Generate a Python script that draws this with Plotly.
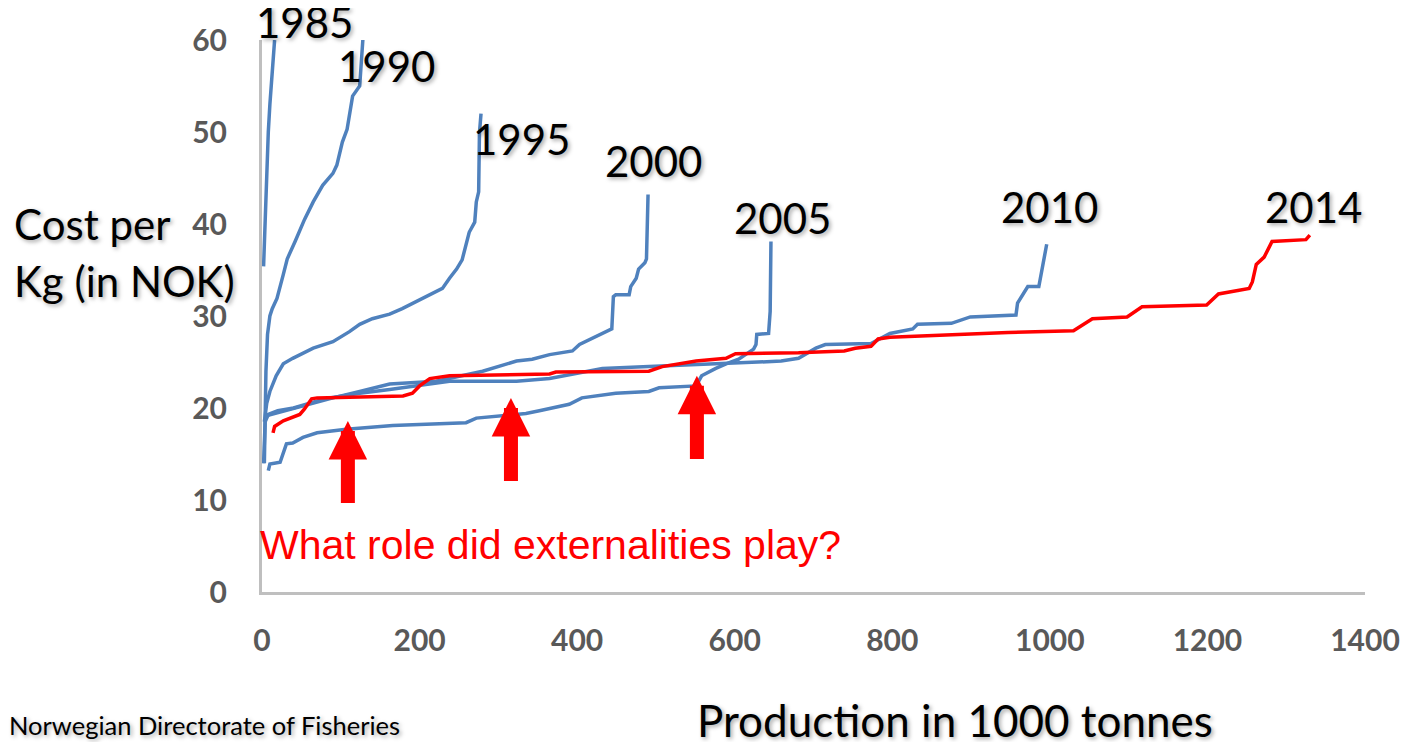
import plotly.graph_objects as go

# Cost curves for Norwegian salmon farming, production (1000 t) vs cost per kg (NOK)
prod_1985 = [2, 3, 4, 5, 6, 7, 8, 10, 12, 14, 16]
cost_1985 = [35.4, 38, 40, 42.4, 45, 47.8, 50, 53, 55.5, 58, 60]

prod_1990 = [3, 4, 5, 7, 10, 13, 19, 27, 32, 42, 54, 65, 77, 90, 95, 102, 108, 115, 120, 124, 128]
cost_1990 = [14, 19, 24, 28, 30, 30.8, 31.9, 34.5, 36.2, 38.1, 40.5, 42.4, 44.2, 45.5, 46.4, 48.9,
             50.3, 53.9, 54.5, 55, 60]

prod_1995 = [3, 6, 10, 18, 27, 39, 65, 90, 111, 124, 140, 162, 178, 204, 229, 238, 247, 254, 259,
             263, 270, 272, 275, 276, 278]
cost_1995 = [18.5, 20.5, 21.8, 23.5, 24.8, 25.4, 26.5, 27.2, 28.3, 29.1, 29.7, 30.2, 30.8, 31.9, 33,
             34.1, 35.1, 36.1, 37.7, 39.1, 40.2, 42.4, 43.5, 49.9, 52]

prod_2000 = [3, 20, 39, 52, 90, 124, 162, 221, 280, 323, 343, 365, 394, 403, 419, 437, 444, 446, 449,
             466, 468, 475, 478, 486, 488, 490]
cost_2000 = [19.1, 19.5, 19.9, 20.2, 21.1, 21.8, 22.6, 22.9, 24, 25.1, 25.3, 25.8, 26.2, 26.9, 27.6,
             28.3, 28.6, 32.1, 32.3, 32.3, 33.2, 34.1, 35.1, 35.8, 36.2, 43.2]

prod_2005 = [8, 10, 23, 31, 39, 52, 70, 107, 166, 221, 259, 272, 335, 352, 390, 406, 449, 491, 504,
             551, 558, 576, 589, 605, 624, 627, 628, 643, 645, 646]
cost_2005 = [13.2, 13.9, 14.1, 16.1, 16.2, 16.8, 17.3, 17.7, 18.1, 18.3, 18.4, 18.9, 19.4, 19.7, 20.4,
             21.1, 21.6, 21.8, 22.2, 22.4, 23.5, 24.3, 24.8, 25.3, 26.4, 26.9, 28, 28.1, 30.5, 38.1]

prod_2010 = [2, 4, 8, 20, 40, 80, 124, 162, 238, 323, 365, 415, 432, 491, 576, 659, 681, 703, 715,
             773, 797, 826, 832, 875, 899, 957, 959, 972, 986, 996]
cost_2010 = [14, 18.5, 19.3, 19.7, 20, 21, 21.6, 22, 22.9, 22.9, 23.2, 24, 24.3, 24.5, 24.8, 25.1,
             25.4, 26.5, 26.9, 27, 28.1, 28.6, 29.1, 29.2, 29.9, 30.1, 31.4, 33.2, 33.2, 37.8]

prod_2014 = [14, 16, 27, 48, 54, 63, 70, 137, 179, 191, 200, 213, 238, 365, 373, 491, 508, 551, 589,
             601, 681, 739, 753, 773, 782, 797, 875, 947, 1030, 1039, 1054, 1098, 1117, 1199, 1214,
             1253, 1257, 1262, 1272, 1282, 1325, 1330]
cost_2014 = [17.3, 18, 18.6, 19.3, 19.9, 21, 21.1, 21.2, 21.3, 21.6, 22.4, 23.2, 23.5, 23.7, 23.9,
             24, 24.5, 25.1, 25.4, 25.9, 26, 26.2, 26.5, 26.7, 27.5, 27.7, 28.0, 28.2, 28.4, 28.9,
             29.7, 29.9, 31.0, 31.2, 32.4, 33.0, 33.7, 35.6, 36.4, 38.1, 38.3, 38.8]

years = ["1985", "1990", "1995", "2000", "2005", "2010", "2014"]
productions = [prod_1985, prod_1990, prod_1995, prod_2000, prod_2005, prod_2010, prod_2014]
costs = [cost_1985, cost_1990, cost_1995, cost_2000, cost_2005, cost_2010, cost_2014]

x_ticks = [0, 200, 400, 600, 800, 1000, 1200, 1400]
y_ticks = [0, 10, 20, 30, 40, 50, 60]

# production levels the arrows point at, with tip / tail cost levels
arrow_prod = [109, 316, 552]
arrow_tip = [18.6, 21.1, 23.5]
arrow_tail = [9.5, 11.9, 14.3]

BLUE = "#4f81bd"
RED = "#ff0000"

# the page body adds an 8px margin, so the figure is drawn 8px smaller
W, H = 1404, 734
PLOT_W, PLOT_H = 1106, 555
L, T = 254, 29


def px_x(px):
    # screen pixel -> paper x
    return (px - 262) / PLOT_W


def px_y(py):
    # screen pixel -> paper y
    return (592 - py) / PLOT_H


fig = go.Figure()
for year, xs, ys in zip(years, productions, costs):
    fig.add_trace(go.Scatter(
        x=xs, y=ys, mode="lines", name=year,
        line=dict(color=RED if year == "2014" else BLUE, width=3.5),
        hoverinfo="x+y+name",
    ))

shadow = "2px 2px 4px rgba(0,0,0,0.35)"
label_font = dict(family="Lato, Noto Sans, sans-serif", size=42, color="black", shadow=shadow)

# year labels (data coordinates)
label_pos = {
    "1985": (54, 59.9), "1990": (158, 57.2), "1995": (330, 49.2), "2000": (497, 46.9),
    "2005": (661, 40.6), "2010": (1000, 41.9), "2014": (1335, 41.9),
}
annotations = []
for year in years:
    lx, ly = label_pos[year]
    annotations.append(dict(x=lx, y=ly, xref="x", yref="y", text=year, showarrow=False,
                            font=label_font, xanchor="center", yanchor="middle",
                            yshift=19 if year == "1985" else 0))

for ax_, tip, tail in zip(arrow_prod, arrow_tip, arrow_tail):
    annotations.append(dict(x=ax_, y=tip, ax=ax_, ay=tail, xref="x", yref="y",
                            axref="x", ayref="y", text="", showarrow=True,
                            arrowhead=2, arrowsize=0.55, arrowwidth=14, arrowcolor=RED))

annotations += [
    dict(x=px_x(11), y=px_y(222), xref="paper", yref="paper", text="Cost per",
         showarrow=False, xanchor="left", yanchor="middle", font=label_font),
    dict(x=px_x(11), y=px_y(279), xref="paper", yref="paper", text="Kg (in NOK)",
         showarrow=False, xanchor="left", yanchor="middle", font=label_font),
    dict(x=px_x(957), y=px_y(721), xref="paper", yref="paper", text="Production in 1000 tonnes",
         showarrow=False, xanchor="center", yanchor="middle",
         font=dict(family="Lato, Noto Sans, sans-serif", size=44, color="black", shadow=shadow)),
    dict(x=px_x(6), y=px_y(726), xref="paper", yref="paper",
         text="Norwegian Directorate of Fisheries", showarrow=False,
         xanchor="left", yanchor="middle",
         font=dict(family="Lato, Noto Sans, sans-serif", size=25.5, color="black", shadow=shadow)),
    dict(x=px_x(258), y=px_y(545), xref="paper", yref="paper",
         text="What role did externalities play?", showarrow=False,
         xanchor="left", yanchor="middle",
         font=dict(family="Liberation Sans, Arial, sans-serif", size=41, color=RED)),
]

tick_font = dict(family="Lato, Noto Sans, sans-serif", size=30, color="#595959", weight="bold")

fig.update_layout(
    width=W, height=H,
    margin=dict(l=L, r=W - L - PLOT_W, t=T, b=H - T - PLOT_H, pad=0),
    plot_bgcolor="white", paper_bgcolor="white",
    showlegend=False,
    annotations=annotations,
    xaxis=dict(range=[0, 1400], tickvals=x_ticks, showgrid=False, zeroline=False,
               showline=True, linecolor="#bfbfbf", linewidth=3, ticks="",
               tickfont=tick_font, ticklabelstandoff=20),
    yaxis=dict(range=[0, 60], tickvals=y_ticks, showgrid=False, zeroline=False,
               showline=True, linecolor="#bfbfbf", linewidth=3, ticks="",
               tickfont=tick_font, ticklabelstandoff=26),
)

fig.write_html("out.html")
